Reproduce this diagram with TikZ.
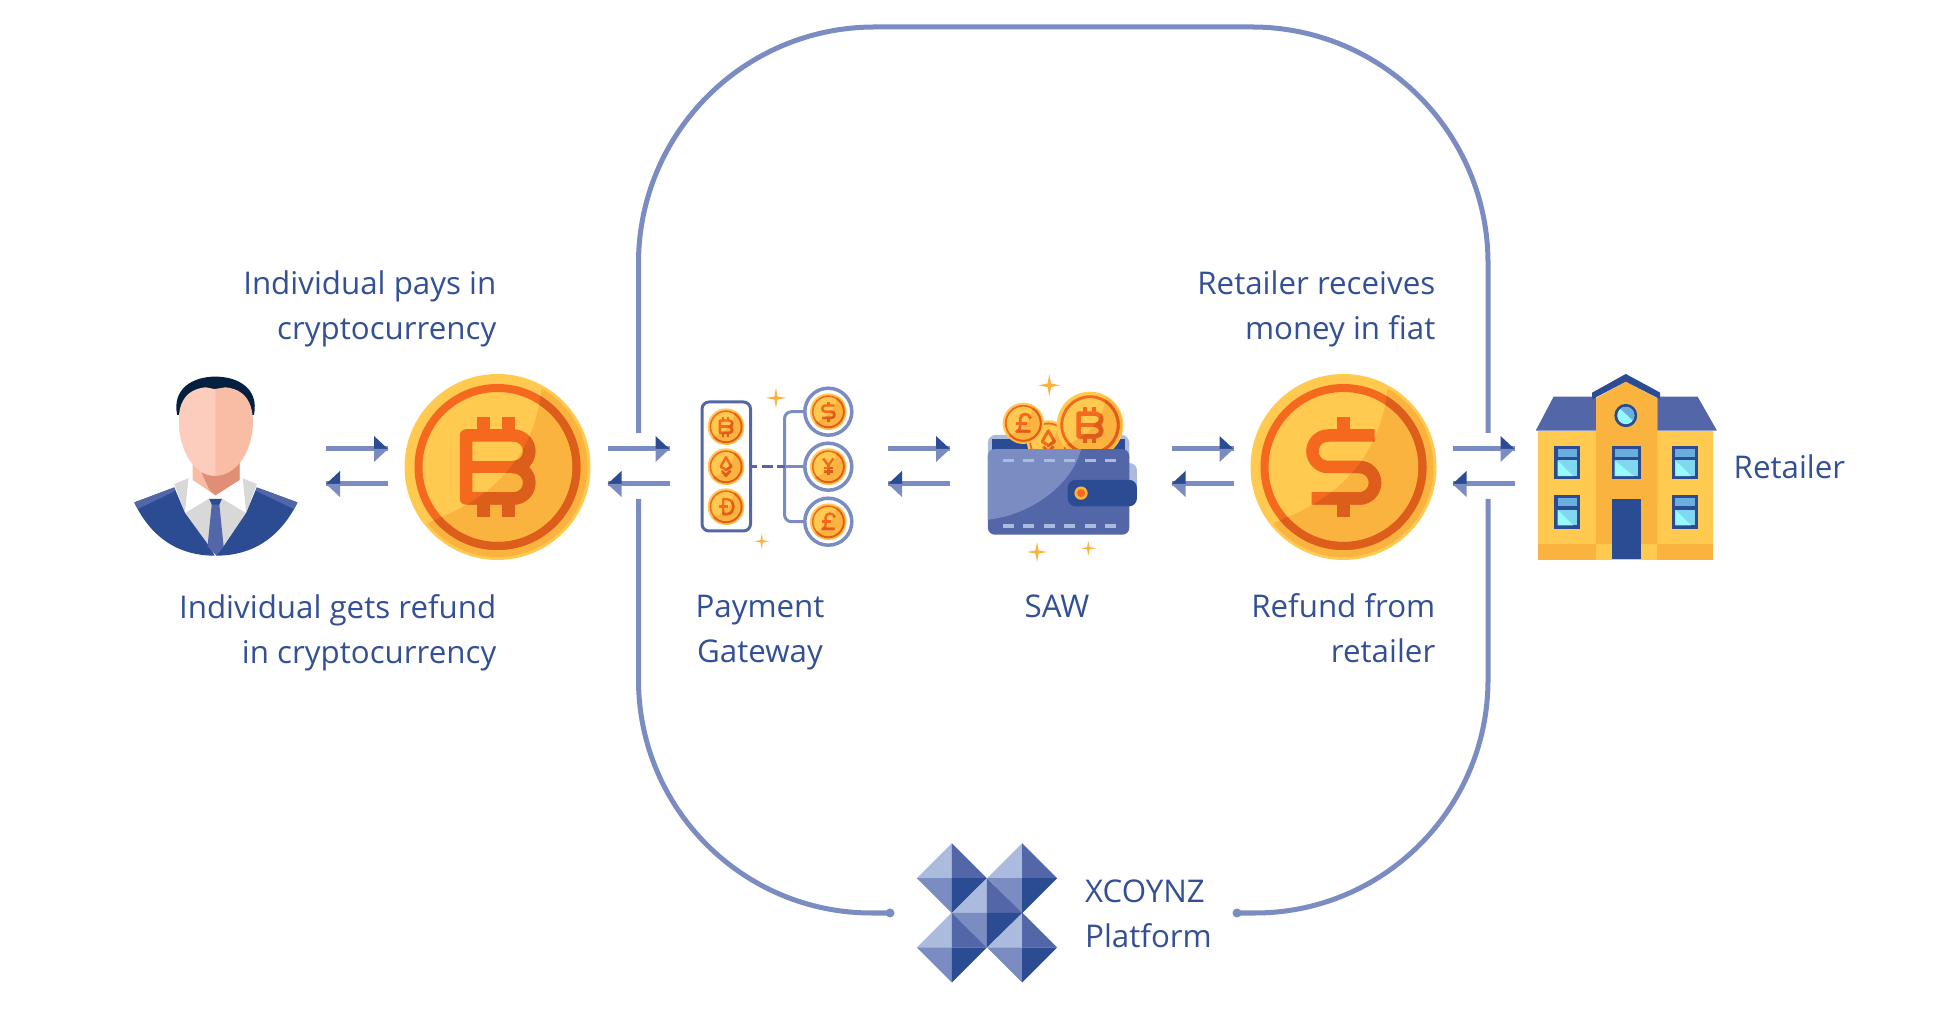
\documentclass[tikz,border=0pt]{standalone}
\usepackage{fontspec}
\setmainfont{Open Sans}
\definecolor{navy}{HTML}{2B4C93}
\definecolor{midblue}{HTML}{5367A8}
\definecolor{softblue}{HTML}{7B8CC2}
\definecolor{paleblue}{HTML}{AABBDD}
\definecolor{textblue}{HTML}{335095}
\definecolor{hairblue}{HTML}{02213F}
\definecolor{coinyellow}{HTML}{FFCA4F}
\definecolor{coinshade}{HTML}{FBB33F}
\definecolor{coinring}{HTML}{F5691F}
\definecolor{coindark}{HTML}{DD5D1B}
\definecolor{skinlight}{HTML}{FCCDBC}
\definecolor{skinmid}{HTML}{F9BDA5}
\definecolor{skindark}{HTML}{E08E75}
\definecolor{shirtgrey}{HTML}{D8D8D8}
\definecolor{glassblue}{HTML}{6AAEE0}
\definecolor{glassmid}{HTML}{7FD8EF}
\definecolor{glasslight}{HTML}{96FAFF}
\tikzset{
  label/.style={text=textblue,font=\fontsize{8.9}{12.7}\selectfont,inner sep=0pt},
  looprim/.style={softblue,line width=0.05cm},
  flowline/.style={softblue,line width=0.05cm},
  glyphline/.style={line width=0.125cm*\coinscale,line join=round},
  zoomA/.style={shift={(120,350)},x=0.0035714cm,y=-0.0033333cm},
  zoomC/.style={shift={(1200,350)},x=0.0035714cm,y=-0.0033333cm},
  zoomB/.style={shift={(680,360)},x=0.0033333cm,y=-0.0033333cm},
  zoomD/.style={shift={(880,820)},x=0.0033333cm,y=-0.0033333cm},
}
% glyphs for a coin of radius 93
\newcommand{\btcglyph}{
  \draw[glyphline] (-31.5,-31.5) -- (16,-31.5) arc (-90:90:15.75) arc (-90:90:15.75) -- (-31.5,31.5) -- cycle;
  \draw[glyphline] (-31.5,0) -- (16,0);
  \foreach \tx in {-14,11} {
    \draw[glyphline] (\tx,-50) -- (\tx,-31.5);
    \draw[glyphline] (\tx,31.5) -- (\tx,50);
  }
}
\newcommand{\usdglyph}{
  \draw[glyphline] (31,-31.5) -- (-15.3,-31.5) arc (270:90:15.75) -- (15.8,0) arc (-90:90:15.75) -- (-32,31.5);
  \draw[glyphline] (0,-50) -- (0,-31.5);
  \draw[glyphline] (0,31.5) -- (0,50);
}
\newcommand{\gbpglyph}{
  \draw[glyphline] (32,-22) .. controls (28,-48) and (-14,-48) .. (-14,-20) -- (-14,15) .. controls (-14,25) and (-20,33) .. (-30,36) -- (32,36);
  \draw[glyphline] (-32,0) -- (16,0);
}
\newcommand{\jpyglyph}{
  \draw[glyphline] (-26,-42) -- (0,-6) -- (26,-42);
  \draw[glyphline] (0,-6) -- (0,44);
  \draw[glyphline] (-24,6) -- (24,6);
  \draw[glyphline] (-24,24) -- (24,24);
}
\newcommand{\ethglyph}{
  \draw[glyphline] (0,-48) -- (27,0) -- (0,16) -- (-27,0) -- cycle;
  \draw[glyphline] (-22,20) -- (0,46) -- (22,20);
}
\newcommand{\dogeglyph}{
  \draw[glyphline] (-14,-38) -- (4,-38) .. controls (48,-38) and (48,38) .. (4,38) -- (-14,38) -- cycle;
  \draw[glyphline] (-34,0) -- (12,0);
}
\newcommand{\drawcoin}[4]{
  \begin{scope}[shift={(#1,#2)},scale=#3]
    \def\coinscale{#3}
    \fill[coinyellow] (0,0) circle (93);
    \begin{scope}
      \clip (0,0) circle (90);
      \fill[coinshade] (44,-100) -- (44,-78) .. controls (38,-20) and (5,25) .. (-56,50) -- (-100,70) -- (-100,100) -- (100,100) -- (100,-100) -- cycle;
    \end{scope}
    \begin{scope}[color=coinring]
      \draw[line width=0.08cm*#3] (0,0) circle (79);
      #4
    \end{scope}
    \begin{scope}[color=coindark]
      \clip (44,-100) -- (44,-78) .. controls (38,-20) and (5,25) .. (-56,50) -- (-100,70) -- (-100,100) -- (100,100) -- (100,-100) -- cycle;
      \draw[line width=0.08cm*#3] (0,0) circle (79);
      #4
    \end{scope}
  \end{scope}
}
\newcommand{\sparkle}[3]{
  \fill[coinshade] (#1,#2-#3) -- (#1+0.16*#3,#2-0.16*#3) -- (#1+#3,#2) -- (#1+0.16*#3,#2+0.16*#3) -- (#1,#2+#3) -- (#1-0.16*#3,#2+0.16*#3) -- (#1-#3,#2) -- (#1-0.16*#3,#2-0.16*#3) -- cycle;
}
\begin{document}
\begin{tikzpicture}[x=0.01cm,y=-0.01cm]
\useasboundingbox (0,0) rectangle (1948,1010);

% platform loop
\coordinate (dotL) at (890,913);
\coordinate (dotR) at (1237,913);
\draw[looprim,rounded corners=2.36cm] (638.5,433) -- (638.5,27) -- (1488,27) -- (1488,433);
\draw[looprim,rounded corners=2.33cm] (dotL) -- (638.5,913) -- (638.5,499);
\draw[looprim,rounded corners=2.33cm] (dotR) -- (1488,913) -- (1488,499);
\fill[softblue] (dotL) circle (4.5);
\fill[softblue] (dotR) circle (4.5);

% arrow pairs
\foreach \ax [count=\i] in {326,607.5,888,1171.5,1452.5} {
  \coordinate (out\i) at (\ax,449);
  \coordinate (in\i) at (\ax+62,449);
  \coordinate (back\i) at (\ax+62,484);
  \coordinate (to\i) at (\ax,484);
  \draw[flowline] (out\i) -- (in\i);
  \fill[navy] (in\i) -- ++(-14,0) -- ++(0,-13) -- cycle;
  \fill[softblue] (in\i) -- ++(-14,0) -- ++(0,13) -- cycle;
  \draw[flowline] (back\i) -- (to\i);
  \fill[navy] (to\i) -- ++(14,0) -- ++(0,-13) -- cycle;
  \fill[softblue] (to\i) -- ++(14,0) -- ++(0,13) -- cycle;
}

% individual
\begin{scope}[zoomA]
  \fill[hairblue] (160,195) .. controls (145,115) and (205,80) .. (267,80) .. controls (330,80) and (390,115) .. (375,195) -- cycle;
  \fill[skinmid] (203,320) -- (335,320) -- (335,390) -- (267,437) -- (203,390) -- cycle;
  \fill[skindark] (228,368) .. controls (270,390) and (310,375) .. (335,338) -- (335,390) -- (267,437) -- (250,420) -- cycle;
  \fill[shirtgrey] (152,403) -- (192,385) -- (182,490) -- cycle;
  \fill[shirtgrey] (383,403) -- (343,385) -- (353,490) -- cycle;
  \fill[white] (192,388) -- (267,438) -- (182,490) -- cycle;
  \fill[white] (343,388) -- (267,438) -- (353,490) -- cycle;
  \fill[shirtgrey] (182,490) -- (250,446) -- (285,446) -- (353,490) -- (290,595) -- (245,595) -- cycle;
  \fill[navy] (40,458) -- (152,413) -- (182,490) -- (250,590) -- (265,618) .. controls (160,618) and (85,560) .. (40,458) -- cycle;
  \fill[navy] (497,458) -- (383,413) -- (353,490) -- (290,590) -- (269,618) .. controls (375,618) and (450,560) .. (497,458) -- cycle;
  \fill[midblue] (40,458) -- (152,413) -- (155,423) -- (50,478) -- cycle;
  \fill[midblue] (497,458) -- (383,413) -- (380,423) -- (487,478) -- cycle;
  \fill[midblue] (257,462) -- (278,462) -- (290,590) -- (270,618) -- (245,590) -- cycle;
  \fill[navy] (250,448) -- (285,448) -- (278,465) -- (257,465) -- cycle;
  \fill[skinmid] (262,118) -- (295,112) .. controls (345,118) and (375,150) .. (372,230) .. controls (365,320) and (320,378) .. (262,378) -- cycle;
  \fill[skinlight] (267,118) -- (240,112) .. controls (190,118) and (160,150) .. (165,230) .. controls (172,320) and (215,378) .. (267,378) -- cycle;
\end{scope}

% big coins
\drawcoin{497.5}{467}{1}{\btcglyph}
\drawcoin{1343.5}{467}{1}{\usdglyph}

% payment gateway
\draw[midblue,line width=0.03cm,rounded corners=0.07cm,fill=white] (702,402) rectangle (750.5,531);
\drawcoin{726}{426.7}{0.197}{\btcglyph}
\drawcoin{726}{466.7}{0.197}{\ethglyph}
\drawcoin{726}{506.7}{0.197}{\dogeglyph}
\coordinate (gateL) at (751.5,466.7);
\coordinate (gateM) at (784.5,466.7);
\foreach \cy/\cglyph [count=\i] in {411.7/\usdglyph,466.7/\jpyglyph,521.7/\gbpglyph} {
  \coordinate (tree\i) at (805,\cy);
  \draw[softblue,line width=0.035cm,fill=white] (828.3,\cy) circle (23.5);
  \drawcoin{828.3}{\cy}{0.197}{\cglyph}
}
\draw[softblue,line width=0.03cm,rounded corners=0.07cm] (tree1) -- (784.5,411.7) -- (784.5,521.7) -- (tree3);
\draw[softblue,line width=0.03cm] (gateM) -- (tree2);
\draw[midblue,line width=0.03cm,dash pattern=on 3.1pt off 1.3pt,dash phase=1.5pt] (gateL) -- (gateM);
\sparkle{776}{398}{10}
\sparkle{761.7}{541.3}{7.5}

% wallet
\begin{scope}[zoomB]
  \fill[paleblue,rounded corners=0.08cm] (925,225) rectangle (1350,320);
  \fill[navy] (936,236) rectangle (1338,275);
\end{scope}
\drawcoin{1048.3}{441.7}{0.23}{\ethglyph}
\drawcoin{1023.3}{423.3}{0.222}{\gbpglyph}
\drawcoin{1090}{425}{0.358}{\btcglyph}
\begin{scope}[zoomB]
  \fill[paleblue,rounded corners=0.07cm] (1300,310) -- (1373,310) -- (1373,400) -- (1300,400) -- cycle;
  \fill[midblue,rounded corners=0.07cm] (925,268) rectangle (1350,525);
  \begin{scope}
    \clip[rounded corners=0.07cm] (925,268) rectangle (1350,525);
    \fill[softblue] (925,268) -- (1205,268) .. controls (1180,370) and (1060,465) .. (925,480) -- cycle;
  \end{scope}
  \foreach \sx in {0,1,...,5} {
    \fill[paleblue] (970+61.5*\sx,296) rectangle ++(33,11);
    \fill[paleblue] (970+61.5*\sx,494) rectangle ++(33,11);
  }
  \fill[navy,rounded corners=0.08cm] (1165,360) -- (1373,360) -- (1373,440) -- (1165,440) -- cycle;
  \fill[coinshade] (1205,400) circle (20);
  \fill[coinring] (1205,400) circle (12);
\end{scope}
\sparkle{1049.3}{385.3}{11}
\sparkle{1037}{552}{10}
\sparkle{1088.3}{548.3}{7.5}

% retailer building
\begin{scope}[zoomC]
  \fill[coinyellow] (947,242) rectangle (1437,630);
  \fill[coinshade] (947,583) rectangle (1108,630);
  \fill[coinshade] (1280,583) rectangle (1437,630);
  \fill[coinshade] (1108,145) -- (1192,95) -- (1280,145) -- (1280,583) -- (1108,583) -- cycle;
  \fill[midblue] (940,242) -- (990,140) -- (1108,140) -- (1108,242) -- cycle;
  \fill[midblue] (1447,242) -- (1393,140) -- (1280,140) -- (1280,242) -- cycle;
  \fill[navy] (1098,128) -- (1192,72) -- (1288,128) -- (1288,148) -- (1192,95) -- (1098,148) -- cycle;
  \fill[navy] (1192,197) circle [x radius=32,y radius=35];
  \fill[glasslight] (1192,197) circle [x radius=24,y radius=26];
  \begin{scope}
    \clip (1192,197) circle [x radius=24,y radius=26];
    \fill[glassblue] (1165,165) -- (1225,165) -- (1225,225) -- cycle;
  \end{scope}
  \foreach \wx/\wy/\ww in {992/288/73,1152/288/83,1322/288/73,992/436/73,1322/436/73} {
    \fill[navy] (\wx,\wy) rectangle ++(\ww,101);
    \fill[glassblue] (\wx+9,\wy+10) rectangle (\wx+\ww-9,\wy+33);
    \fill[glassmid] (\wx+9,\wy+44) rectangle (\wx+\ww-9,\wy+91);
    \fill[glasslight] (\wx+9,\wy+44) -- (\wx+\ww-20,\wy+91) -- (\wx+9,\wy+91) -- cycle;
  }
  \fill[navy] (1152,447) rectangle (1235,628);
\end{scope}

% platform logo
\begin{scope}[zoomD]
  \foreach \dx/\dy in {216/175,427/175,216/383,427/383} {
    \fill[paleblue] (\dx,\dy-105) -- (\dx-105,\dy) -- (\dx,\dy) -- cycle;
    \fill[midblue] (\dx,\dy-105) -- (\dx+105,\dy) -- (\dx,\dy) -- cycle;
    \fill[softblue] (\dx,\dy+105) -- (\dx-105,\dy) -- (\dx,\dy) -- cycle;
    \fill[navy] (\dx,\dy+105) -- (\dx+105,\dy) -- (\dx,\dy) -- cycle;
  }
  \fill[paleblue] (321,175) -- (216,279) -- (321,279) -- cycle;
  \fill[midblue] (321,175) -- (427,279) -- (321,279) -- cycle;
  \fill[softblue] (321,383) -- (216,279) -- (321,279) -- cycle;
  \fill[navy] (321,383) -- (427,279) -- (321,279) -- cycle;
\end{scope}

% labels
\node[label,anchor=east,align=right] (paysL) at (497,309) {Individual pays in\\cryptocurrency};
\node[label,anchor=east,align=right] (refundL) at (497,632.5) {Individual gets refund\\in cryptocurrency};
\node[label,align=center] (gatewayL) at (760,632.5) {Payment\\Gateway};
\node[label] (sawL) at (1057,606.5) {SAW};
\node[label,anchor=east,align=right] (fiatL) at (1436,309) {Retailer receives\\money in fiat};
\node[label,anchor=east,align=right] (backL) at (1436,628.5) {Refund from\\retailer};
\node[label,anchor=west] (retailerL) at (1733,467) {Retailer};
\node[label,anchor=west,align=left] (xcoynzL) at (1084.5,914) {XCOYNZ\\Platform};
\end{tikzpicture}
\end{document}
